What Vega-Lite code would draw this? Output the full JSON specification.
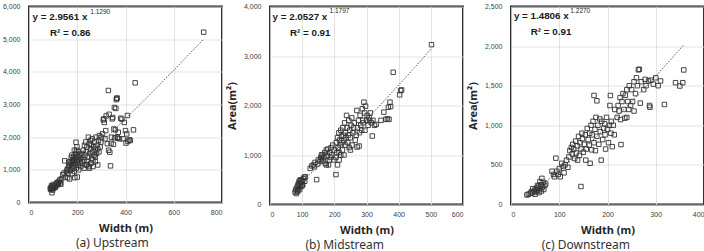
{
  "$schema": "https://vega.github.io/schema/vega-lite/v6.json",
  "background": "white",
  "padding": {"left": 1, "top": 1.5, "right": 3, "bottom": 2},
  "bounds": "flush",
  "spacing": 48,
  "config": {
    "view": {"stroke": "#1a1a1a", "strokeWidth": 1.8},
    "axis": {"grid": true, "gridColor": "#dcdcdc", "gridWidth": 0.8, "domain": false, "ticks": false,
      "labelFont": "Liberation Sans", "labelFontSize": 7, "labelColor": "#404040", "labelPadding": 9,
      "titleFont": "Noto Sans", "titleFontSize": 11, "titleFontWeight": "bold", "titleColor": "#262626", "titlePadding": 6},
    "axisX": {"labelPadding": 6, "titlePadding": 7, "labelFlush": true},
    "title": {"font": "Noto Sans", "fontSize": 12, "fontWeight": "normal", "color": "#333333", "orient": "bottom", "frame": "bounds", "offset": 4}
  },
  "datasets": {
    "a": [
      {"w":90,"a":400},{"w":92,"a":450},{"w":95,"a":420},{"w":96,"a":480},{"w":98,"a":380},{"w":100,"a":470},{"w":102,"a":440},{"w":95,"a":300},{"w":105,"a":500},{"w":108,"a":460},{"w":110,"a":520},{"w":112,"a":560},{"w":115,"a":600},{"w":118,"a":540},{"w":120,"a":620},{"w":122,"a":580},{"w":125,"a":650},{"w":128,"a":700},{"w":130,"a":600},{"w":132,"a":560},{"w":135,"a":720},{"w":100,"a":550},{"w":110,"a":480},{"w":88,"a":430},{"w":93,"a":510},
      {"w":140,"a":850},{"w":145,"a":900},{"w":148,"a":1276},{"w":150,"a":780},{"w":155,"a":950},{"w":158,"a":1000},{"w":160,"a":880},{"w":162,"a":1050},{"w":165,"a":1100},{"w":168,"a":720},{"w":170,"a":1150},{"w":172,"a":990},{"w":175,"a":1200},{"w":178,"a":1050},{"w":180,"a":1250},{"w":182,"a":1300},{"w":184,"a":1100},{"w":185,"a":1400},{"w":187,"a":950},{"w":188,"a":1150},{"w":190,"a":1350},{"w":192,"a":1200},{"w":193,"a":1500},{"w":195,"a":1450},{"w":196,"a":1050},{"w":197,"a":1600},{"w":198,"a":1300},{"w":199,"a":1700},{"w":200,"a":1250},{"w":200,"a":780},{"w":202,"a":1400},{"w":204,"a":1150},{"w":205,"a":1550},{"w":206,"a":1000},{"w":208,"a":1300},{"w":195,"a":1845},{"w":210,"a":1450},{"w":212,"a":1200},{"w":214,"a":1350},{"w":215,"a":1100},{"w":190,"a":760},{"w":180,"a":880},{"w":170,"a":1250},{"w":175,"a":1380},{"w":185,"a":1280},{"w":160,"a":760},{"w":165,"a":1230},{"w":178,"a":1450},{"w":188,"a":1600},
      {"w":218,"a":1500},{"w":220,"a":1250},{"w":222,"a":1380},{"w":225,"a":1600},{"w":228,"a":1050},{"w":230,"a":1300},{"w":232,"a":1450},{"w":235,"a":1850},{"w":236,"a":1150},{"w":238,"a":1550},{"w":240,"a":1700},{"w":242,"a":1250},{"w":245,"a":1400},{"w":246,"a":2000},{"w":248,"a":1100},{"w":250,"a":1800},{"w":252,"a":1500},{"w":255,"a":1650},{"w":256,"a":1200},{"w":258,"a":1750},{"w":260,"a":1350},{"w":262,"a":1950},{"w":264,"a":1550},{"w":265,"a":1100},{"w":268,"a":1700},{"w":270,"a":1450},{"w":272,"a":1850},{"w":275,"a":1250},{"w":276,"a":1600},{"w":278,"a":2000},{"w":280,"a":1500},{"w":282,"a":1750},{"w":285,"a":1650},{"w":288,"a":1900},{"w":290,"a":1550},{"w":292,"a":2050},{"w":295,"a":1700},{"w":298,"a":1850},{"w":300,"a":2000},{"w":250,"a":1050},{"w":265,"a":1300},{"w":285,"a":1150},{"w":240,"a":1150},{"w":230,"a":1750},{"w":255,"a":1900},{"w":275,"a":1400},
      {"w":305,"a":2100},{"w":308,"a":2530},{"w":310,"a":2560},{"w":312,"a":2450},{"w":315,"a":1950},{"w":318,"a":2200},{"w":320,"a":2650},{"w":325,"a":1800},{"w":329,"a":3429},{"w":330,"a":1600},{"w":332,"a":2700},{"w":335,"a":1540},{"w":338,"a":1122},{"w":340,"a":1815},{"w":342,"a":2000},{"w":345,"a":2560},{"w":347,"a":2600},{"w":350,"a":1780},{"w":352,"a":2250},{"w":354,"a":2908},{"w":355,"a":1980},{"w":358,"a":2224},{"w":360,"a":2880},{"w":362,"a":3150},{"w":364,"a":3180},{"w":365,"a":3200},{"w":366,"a":2000},{"w":368,"a":1968},{"w":370,"a":2150},{"w":375,"a":1950},{"w":380,"a":2580},{"w":385,"a":2550},{"w":390,"a":1950},{"w":395,"a":2450},{"w":400,"a":2200},{"w":402,"a":1820},{"w":405,"a":2100},{"w":408,"a":2663},{"w":410,"a":1870},{"w":415,"a":1920},{"w":420,"a":1900},{"w":433,"a":2224},{"w":440,"a":3663},{"w":724,"a":5214}
    ],
    "b": [
      {"w":78,"a":250},{"w":80,"a":300},{"w":82,"a":220},{"w":84,"a":350},{"w":85,"a":280},{"w":87,"a":400},{"w":88,"a":320},{"w":90,"a":380},{"w":90,"a":450},{"w":92,"a":300},{"w":94,"a":420},{"w":95,"a":500},{"w":96,"a":360},{"w":98,"a":450},{"w":100,"a":480},{"w":102,"a":400},{"w":104,"a":520},{"w":106,"a":550},{"w":108,"a":470},{"w":100,"a":380},{"w":86,"a":260},{"w":92,"a":480},{"w":110,"a":560},
      {"w":125,"a":730},{"w":130,"a":780},{"w":135,"a":800},{"w":138,"a":760},{"w":140,"a":850},{"w":145,"a":503},{"w":148,"a":820},{"w":150,"a":900},{"w":155,"a":870},{"w":158,"a":950},{"w":160,"a":920},{"w":163,"a":1000},{"w":165,"a":880},{"w":168,"a":960},{"w":170,"a":1050},{"w":172,"a":830},{"w":175,"a":1100},{"w":178,"a":980},{"w":180,"a":1120},{"w":182,"a":800},{"w":185,"a":1050},{"w":188,"a":950},{"w":190,"a":1150},{"w":192,"a":1000},{"w":195,"a":1200},{"w":198,"a":900},{"w":200,"a":1100},{"w":175,"a":800},{"w":160,"a":1000},{"w":185,"a":900},
      {"w":205,"a":604},{"w":205,"a":950},{"w":206,"a":1250},{"w":208,"a":1050},{"w":210,"a":1350},{"w":210,"a":800},{"w":212,"a":1150},{"w":214,"a":1450},{"w":215,"a":900},{"w":216,"a":1300},{"w":218,"a":1200},{"w":220,"a":1500},{"w":220,"a":1000},{"w":222,"a":1380},{"w":224,"a":1250},{"w":225,"a":1100},{"w":226,"a":1550},{"w":228,"a":1400},{"w":230,"a":1300},{"w":232,"a":1650},{"w":234,"a":1450},{"w":235,"a":1200},{"w":236,"a":1350},{"w":238,"a":1800},{"w":240,"a":1550},{"w":242,"a":1250},{"w":244,"a":1400},{"w":245,"a":1700},{"w":246,"a":1150},{"w":248,"a":1500},{"w":250,"a":1350},{"w":252,"a":1600},{"w":254,"a":1750},{"w":255,"a":1200},{"w":258,"a":1450},{"w":260,"a":1550},{"w":215,"a":1050},{"w":230,"a":1000},{"w":250,"a":1100},
      {"w":262,"a":1650},{"w":265,"a":1300},{"w":268,"a":1400},{"w":270,"a":1900},{"w":271,"a":1161},{"w":272,"a":1550},{"w":275,"a":1700},{"w":277,"a":1181},{"w":278,"a":1450},{"w":280,"a":1800},{"w":282,"a":1600},{"w":285,"a":1500},{"w":287,"a":1933},{"w":288,"a":1700},{"w":290,"a":1650},{"w":292,"a":2067},{"w":294,"a":1850},{"w":295,"a":1500},{"w":297,"a":1987},{"w":300,"a":1700},{"w":302,"a":1800},{"w":305,"a":1600},{"w":308,"a":1750},{"w":310,"a":1700},{"w":312,"a":1850},{"w":315,"a":1650},{"w":318,"a":1383},{"w":320,"a":1700},{"w":325,"a":1600},{"w":330,"a":1620},
      {"w":345,"a":1700},{"w":354,"a":1866},{"w":360,"a":1720},{"w":365,"a":1730},{"w":368,"a":1966},{"w":370,"a":1720},{"w":373,"a":2067},{"w":375,"a":1980},{"w":383,"a":2671},{"w":403,"a":2215},{"w":406,"a":2302},{"w":409,"a":2315},{"w":502,"a":3228}
    ],
    "c": [
      {"w":33,"a":120},{"w":36,"a":130},{"w":40,"a":140},{"w":42,"a":160},{"w":45,"a":150},{"w":48,"a":170},{"w":50,"a":190},{"w":52,"a":160},{"w":54,"a":210},{"w":55,"a":180},{"w":57,"a":230},{"w":58,"a":150},{"w":60,"a":200},{"w":62,"a":250},{"w":63,"a":170},{"w":64,"a":330},{"w":65,"a":220},{"w":67,"a":280},{"w":68,"a":190},{"w":70,"a":240},{"w":72,"a":260},{"w":55,"a":240},{"w":50,"a":130},{"w":60,"a":290},{"w":45,"a":200},
      {"w":85,"a":420},{"w":88,"a":380},{"w":90,"a":350},{"w":93,"a":585},{"w":95,"a":420},{"w":98,"a":380},{"w":100,"a":450},{"w":102,"a":350},{"w":105,"a":520},{"w":108,"a":480},{"w":110,"a":400},{"w":112,"a":500},{"w":115,"a":560},{"w":118,"a":470},{"w":120,"a":600},{"w":122,"a":680},{"w":125,"a":720},{"w":127,"a":640},{"w":128,"a":760},{"w":130,"a":700},{"w":132,"a":580},{"w":134,"a":800},{"w":135,"a":650},{"w":137,"a":740},{"w":138,"a":560},{"w":140,"a":860},{"w":142,"a":620},{"w":143,"a":780},{"w":145,"a":227},{"w":145,"a":700},
      {"w":147,"a":900},{"w":148,"a":830},{"w":150,"a":660},{"w":152,"a":760},{"w":154,"a":880},{"w":155,"a":560},{"w":156,"a":700},{"w":158,"a":960},{"w":160,"a":820},{"w":162,"a":750},{"w":163,"a":900},{"w":164,"a":520},{"w":166,"a":1000},{"w":167,"a":690},{"w":168,"a":880},{"w":170,"a":1050},{"w":172,"a":1377},{"w":172,"a":780},{"w":174,"a":950},{"w":175,"a":680},{"w":176,"a":1100},{"w":178,"a":1309},{"w":178,"a":860},{"w":180,"a":1000},{"w":182,"a":760},{"w":184,"a":1080},{"w":185,"a":920},{"w":187,"a":560},{"w":188,"a":1050},{"w":190,"a":820},{"w":192,"a":960},{"w":194,"a":1020},{"w":195,"a":880},{"w":196,"a":700},{"w":198,"a":1100},{"w":200,"a":950},{"w":202,"a":780},{"w":204,"a":1000},{"w":205,"a":1250},{"w":206,"a":1376},{"w":207,"a":900},{"w":208,"a":1050},{"w":210,"a":730},{"w":212,"a":1000},{"w":214,"a":880},{"w":215,"a":1200},
      {"w":220,"a":1100},{"w":222,"a":1250},{"w":224,"a":1180},{"w":226,"a":1350},{"w":227,"a":1073},{"w":228,"a":757},{"w":230,"a":1300},{"w":232,"a":1400},{"w":234,"a":1200},{"w":236,"a":1090},{"w":237,"a":1380},{"w":240,"a":1450},{"w":242,"a":1300},{"w":244,"a":1200},{"w":245,"a":1500},{"w":248,"a":1250},{"w":250,"a":1450},{"w":252,"a":1300},{"w":255,"a":1550},{"w":258,"a":1400},{"w":260,"a":1600},{"w":262,"a":1500},{"w":264,"a":1700},{"w":266,"a":1708},{"w":268,"a":1280},{"w":270,"a":1550},{"w":275,"a":1450},{"w":278,"a":1580},{"w":280,"a":1500},{"w":285,"a":1560},{"w":287,"a":1250},{"w":288,"a":1229},{"w":290,"a":1570},{"w":295,"a":1520},{"w":300,"a":1600},{"w":305,"a":1500},{"w":310,"a":1560},{"w":318,"a":1263},{"w":341,"a":1538},{"w":350,"a":1496},{"w":356,"a":1538},{"w":358,"a":1699},{"w":240,"a":1100},{"w":255,"a":1180}
    ],
    "la": [{"w":90,"a":475},{"w":200,"a":1171},{"w":300,"a":1852},{"w":400,"a":2562},{"w":500,"a":3296},{"w":600,"a":4049},{"w":724,"a":5003}],
    "lb": [{"w":78,"a":350},{"w":150,"a":758},{"w":250,"a":1385},{"w":350,"a":2059},{"w":450,"a":2770},{"w":502,"a":3152}],
    "lc": [{"w":33,"a":108},{"w":100,"a":421},{"w":200,"a":986},{"w":300,"a":1621},{"w":358,"a":2015}]
  },
  "hconcat": [
    {
      "width": 193, "height": 196,
      "title": {"text": "(a)  Upstream"},
      "encoding": {
        "x": {"type": "quantitative", "scale": {"domain": [0, 800], "nice": false}, "axis": {"values": [0, 200, 400, 600, 800], "title": "Width (m)", "format": ",.0f"}},
        "y": {"type": "quantitative", "scale": {"domain": [0, 6000], "nice": false}, "axis": {"values": [0, 1000, 2000, 3000, 4000, 5000, 6000], "title": null, "format": ",.0f"}}
      },
      "layer": [
        {"data": {"name": "a"}, "mark": {"type": "point", "shape": "square", "filled": false, "stroke": "#333333", "strokeWidth": 0.9, "size": 20, "opacity": 1},
         "encoding": {"x": {"field": "w"}, "y": {"field": "a"}}},
        {"data": {"name": "la"}, "mark": {"type": "line", "stroke": "#555555", "strokeWidth": 1, "strokeDash": [1.5, 1.5]},
         "encoding": {"x": {"field": "w"}, "y": {"field": "a"}}},
        {"data": {"values": [{"t": "y = 2.9561 x"}]}, "mark": {"type": "text", "align": "left", "baseline": "alphabetic", "font": "Liberation Sans", "fontWeight": "bold", "fontSize": 9.8, "color": "#1a1a1a"},
         "encoding": {"x": {"datum": 15}, "y": {"datum": 5600}, "text": {"field": "t"}}},
        {"data": {"values": [{"t": "1.1290"}]}, "mark": {"type": "text", "align": "left", "baseline": "alphabetic", "font": "Liberation Sans", "fontSize": 6.5, "color": "#1a1a1a"},
         "encoding": {"x": {"datum": 254}, "y": {"datum": 5780}, "text": {"field": "t"}}},
        {"data": {"values": [{"t": "R² = 0.86"}]}, "mark": {"type": "text", "align": "left", "baseline": "alphabetic", "font": "Liberation Sans", "fontWeight": "bold", "fontSize": 9.8, "color": "#1a1a1a"},
         "encoding": {"x": {"datum": 87}, "y": {"datum": 5100}, "text": {"field": "t"}}}
      ]
    },
    {
      "width": 193, "height": 198,
      "title": {"text": "(b)  Midstream"},
      "encoding": {
        "x": {"type": "quantitative", "scale": {"domain": [0, 600], "nice": false}, "axis": {"values": [0, 100, 200, 300, 400, 500, 600], "title": "Width (m)", "format": ",.0f"}},
        "y": {"type": "quantitative", "scale": {"domain": [0, 4000], "nice": false}, "axis": {"values": [0, 1000, 2000, 3000, 4000], "title": "Area(m²)", "format": ",.0f"}}
      },
      "layer": [
        {"data": {"name": "b"}, "mark": {"type": "point", "shape": "square", "filled": false, "stroke": "#333333", "strokeWidth": 0.9, "size": 20, "opacity": 1},
         "encoding": {"x": {"field": "w"}, "y": {"field": "a"}}},
        {"data": {"name": "lb"}, "mark": {"type": "line", "stroke": "#555555", "strokeWidth": 1, "strokeDash": [1.5, 1.5]},
         "encoding": {"x": {"field": "w"}, "y": {"field": "a"}}},
        {"data": {"values": [{"t": "y = 2.0527 x"}]}, "mark": {"type": "text", "align": "left", "baseline": "alphabetic", "font": "Liberation Sans", "fontWeight": "bold", "fontSize": 9.8, "color": "#1a1a1a"},
         "encoding": {"x": {"datum": 8}, "y": {"datum": 3737}, "text": {"field": "t"}}},
        {"data": {"values": [{"t": "1.1797"}]}, "mark": {"type": "text", "align": "left", "baseline": "alphabetic", "font": "Liberation Sans", "fontSize": 6.5, "color": "#1a1a1a"},
         "encoding": {"x": {"datum": 185}, "y": {"datum": 3859}, "text": {"field": "t"}}},
        {"data": {"values": [{"t": "R² = 0.91"}]}, "mark": {"type": "text", "align": "left", "baseline": "alphabetic", "font": "Liberation Sans", "fontWeight": "bold", "fontSize": 9.8, "color": "#1a1a1a"},
         "encoding": {"x": {"datum": 62}, "y": {"datum": 3414}, "text": {"field": "t"}}}
      ]
    },
    {
      "width": 193, "height": 198,
      "title": {"text": "(c)  Downstream"},
      "encoding": {
        "x": {"type": "quantitative", "scale": {"domain": [0, 400], "nice": false}, "axis": {"values": [0, 100, 200, 300, 400], "title": "Width (m)", "format": ",.0f"}},
        "y": {"type": "quantitative", "scale": {"domain": [0, 2500], "nice": false}, "axis": {"values": [0, 500, 1000, 1500, 2000, 2500], "title": "Area(m²)", "format": ",.0f"}}
      },
      "layer": [
        {"data": {"name": "c"}, "mark": {"type": "point", "shape": "square", "filled": false, "stroke": "#333333", "strokeWidth": 0.9, "size": 20, "opacity": 1},
         "encoding": {"x": {"field": "w"}, "y": {"field": "a"}}},
        {"data": {"name": "lc"}, "mark": {"type": "line", "stroke": "#555555", "strokeWidth": 1, "strokeDash": [1.5, 1.5]},
         "encoding": {"x": {"field": "w"}, "y": {"field": "a"}}},
        {"data": {"values": [{"t": "y = 1.4806 x"}]}, "mark": {"type": "text", "align": "left", "baseline": "alphabetic", "font": "Liberation Sans", "fontWeight": "bold", "fontSize": 9.8, "color": "#1a1a1a"},
         "encoding": {"x": {"datum": 6}, "y": {"datum": 2336}, "text": {"field": "t"}}},
        {"data": {"values": [{"t": "1.2270"}]}, "mark": {"type": "text", "align": "left", "baseline": "alphabetic", "font": "Liberation Sans", "fontSize": 6.5, "color": "#1a1a1a"},
         "encoding": {"x": {"datum": 123}, "y": {"datum": 2412}, "text": {"field": "t"}}},
        {"data": {"values": [{"t": "R² = 0.91"}]}, "mark": {"type": "text", "align": "left", "baseline": "alphabetic", "font": "Liberation Sans", "fontWeight": "bold", "fontSize": 9.8, "color": "#1a1a1a"},
         "encoding": {"x": {"datum": 41}, "y": {"datum": 2134}, "text": {"field": "t"}}}
      ]
    }
  ]
}
